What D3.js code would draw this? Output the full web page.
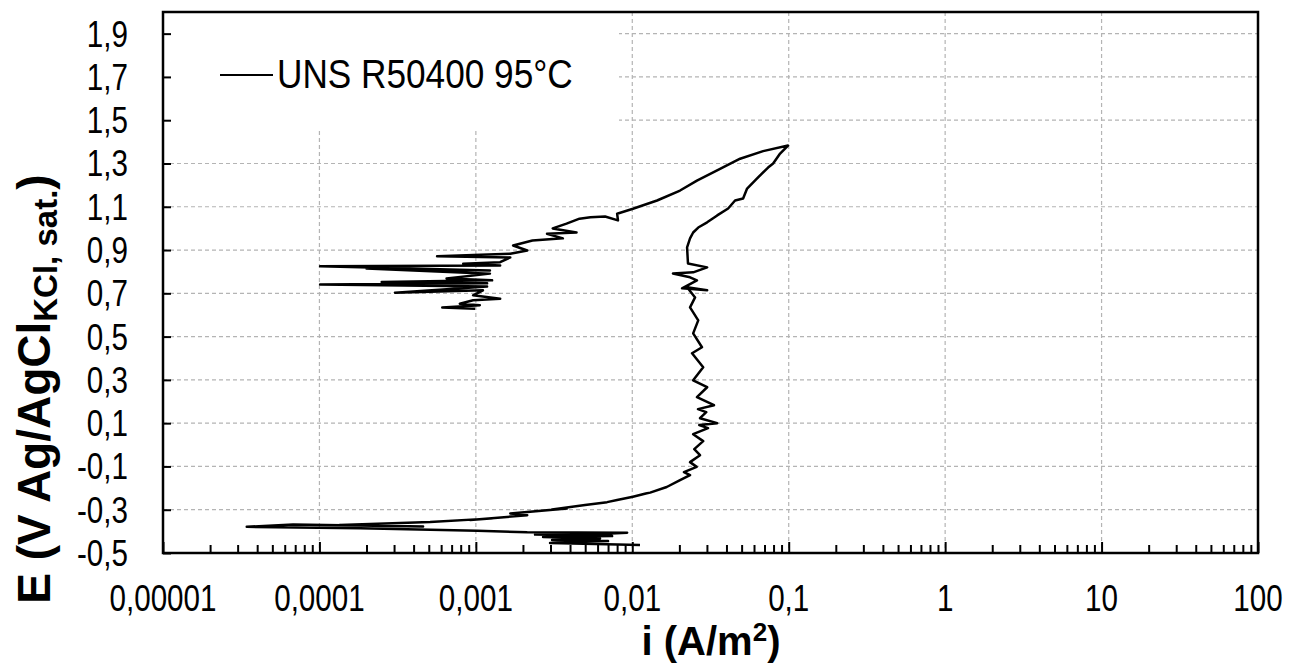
<!DOCTYPE html>
<html>
<head>
<meta charset="utf-8">
<script src="https://cdn.jsdelivr.net/npm/d3@7"></script>
<style>
  body { margin: 0; background: #fff; }
  text { font-family: 'Liberation Sans', Arial, sans-serif; }
</style>
</head>
<body>
<div id="chart"></div>
<script>
// Current density (A/m2) and potential (V Ag/AgCl) in scan order
const current = [
  0.0112, 0.00298, 0.0070, 0.00307, 0.00622, 0.00269, 0.00743, 0.00239, 0.00622, 0.00927,
  0.00213, 0.00102, 0.000182, 0.0000343, 0.0000678, 0.00046, 0.000135, 0.00051, 0.00129, 0.00092,
  0.00213, 0.00166, 0.00383, 0.00307, 0.00499, 0.0069, 0.0080, 0.0101, 0.0122, 0.0130,
  0.0166, 0.0202, 0.0234, 0.0214, 0.0258, 0.0234, 0.0271, 0.0249, 0.0284, 0.0245,
  0.0305, 0.0268, 0.0349, 0.0271, 0.0297, 0.0263, 0.0333, 0.0259, 0.0301, 0.0245,
  0.0284, 0.0241, 0.0279, 0.0245, 0.0264, 0.0234, 0.0252, 0.0224, 0.0301, 0.0208,
  0.0259, 0.0234, 0.0182, 0.0245, 0.0301, 0.0227, 0.0224, 0.0234, 0.0245, 0.0264,
  0.0301, 0.0349, 0.0410, 0.0454, 0.0511, 0.0542, 0.0628, 0.0738, 0.0795, 0.0881,
  0.099,
  0.0686, 0.0489, 0.0364, 0.0259, 0.0202, 0.0144, 0.0101, 0.0080, 0.0081, 0.0067,
  0.0054, 0.0046, 0.0038, 0.0031, 0.0044, 0.00285, 0.0036, 0.0023, 0.00173, 0.00213,
  0.00166, 0.000565, 0.00166, 0.00143, 0.00083, 0.00143, 0.000101, 0.00123, 0.0002, 0.00123,
  0.00065, 0.00127, 0.00025, 0.00118, 0.000101, 0.00118, 0.000304, 0.00111, 0.00096, 0.00143,
  0.00096, 0.00079, 0.00106, 0.00061, 0.00099
]
const potential = [
  -0.463, -0.454, -0.445, -0.440, -0.433, -0.426, -0.422, -0.415, -0.412, -0.406,
  -0.404, -0.397, -0.386, -0.379, -0.368, -0.378, -0.371, -0.357, -0.340, -0.348,
  -0.325, -0.317, -0.294, -0.299, -0.278, -0.265, -0.255, -0.240, -0.225, -0.221,
  -0.195, -0.163, -0.140, -0.126, -0.102, -0.080, -0.048, -0.020, 0.017, 0.049,
  0.077, 0.091, 0.100, 0.123, 0.151, 0.165, 0.183, 0.220, 0.266, 0.298,
  0.358, 0.423, 0.451, 0.515, 0.575, 0.635, 0.681, 0.728, 0.714, 0.723,
  0.760, 0.774, 0.792, 0.797, 0.820, 0.838, 0.912, 0.954, 0.981, 1.004,
  1.028, 1.060, 1.092, 1.129, 1.138, 1.184, 1.231, 1.281, 1.300, 1.346,
  1.383,
  1.357, 1.322, 1.275, 1.221, 1.175, 1.129, 1.091, 1.068, 1.037, 1.055,
  1.052, 1.045, 1.022, 1.000, 0.981, 0.975, 0.954, 0.944, 0.921, 0.898,
  0.883, 0.871, 0.866, 0.844, 0.837, 0.829, 0.825, 0.806, 0.815, 0.791,
  0.768, 0.760, 0.752, 0.746, 0.741, 0.732, 0.703, 0.714, 0.691, 0.675,
  0.668, 0.652, 0.645, 0.634, 0.629
]

const seriesName = 'UNS R50400 95°C'
const xTicks = [0.00001, 0.0001, 0.001, 0.01, 0.1, 1, 10, 100]
const xTickLabels = ['0,00001', '0,0001', '0,001', '0,01', '0,1', '1', '10', '100']
const yTicks = [-0.5, -0.3, -0.1, 0.1, 0.3, 0.5, 0.7, 0.9, 1.1, 1.3, 1.5, 1.7, 1.9]

const width = 1289
const height = 667
const margin = {left: 163, right: 31, top: 12, bottom: 114}
const w = width - margin.left - margin.right
const h = height - margin.top - margin.bottom
const narrow = 0.8 // the labels use a condensed face

const svg = d3.select('#chart')
  .append('svg')
  .attr('width', width)
  .attr('height', height)

const xScale = d3.scaleLog().domain([0.00001, 100]).range([0, w])
const yScale = d3.scaleLinear().domain([-0.5, 2.0]).range([h, 0])

const g = svg.append('g')
  .attr('transform', `translate(${margin.left},${margin.top})`)

// Gridlines
g.append('g')
  .selectAll('line')
  .data(yTicks.slice(1))
  .join('line')
  .attr('x1', 0).attr('x2', w)
  .attr('y1', d => yScale(d)).attr('y2', d => yScale(d))
  .style('stroke', '#b4b4b4')
  .style('stroke-width', 1.2)
  .style('stroke-dasharray', '4,3')

g.append('g')
  .selectAll('line')
  .data(xTicks.slice(1, -1))
  .join('line')
  .attr('x1', d => xScale(d)).attr('x2', d => xScale(d))
  .attr('y1', 0).attr('y2', h)
  .style('stroke', '#b4b4b4')
  .style('stroke-width', 1.2)
  .style('stroke-dasharray', '4,3')

// Legend background hides the grid
g.append('rect')
  .attr('x', 1).attr('y', 1)
  .attr('width', 455).attr('height', 117)
  .style('fill', 'white')

// Axes, ticks inside
const xMinor = []
xTicks.slice(0, -1).forEach(t => {
  for (let k = 2; k < 10; k++) xMinor.push(t * k)
})
const bAxis = g.append('g')
  .attr('transform', `translate(0,${h})`)
bAxis.call(d3.axisBottom(xScale).tickValues(xMinor).tickSize(-8).tickFormat(''))
bAxis.append('g')
  .call(d3.axisBottom(xScale).tickValues(xTicks).tickSize(-11).tickFormat(''))
bAxis.selectAll('.domain').remove()

const lAxis = g.append('g')
lAxis.call(d3.axisLeft(yScale).tickValues(yTicks).tickSize(-8).tickFormat(''))
lAxis.selectAll('.domain').remove()
g.selectAll('.tick line')
  .style('stroke', 'black')
  .style('stroke-width', 2)

// Frame
g.append('rect')
  .attr('width', w).attr('height', h)
  .style('fill', 'none')
  .style('stroke', 'black')
  .style('stroke-width', 2.5)

// Tick labels
g.append('g')
  .selectAll('text')
  .data(xTicks)
  .join('text')
  .attr('transform', d => `translate(${xScale(d)},${h + 58}) scale(${narrow},1)`)
  .attr('text-anchor', 'middle')
  .style('font-size', '37px')
  .text((d, i) => xTickLabels[i])

g.append('g')
  .selectAll('text')
  .data(yTicks)
  .join('text')
  .attr('transform', d => `translate(-35,${yScale(d) + 13}) scale(${narrow},1)`)
  .attr('text-anchor', 'end')
  .style('font-size', '37px')
  .text(d => d3.format('.1f')(d).replace('.', ',').replace('−', '-'))

// Data line
const line = d3.line()
  .x(d => xScale(d[0]))
  .y(d => yScale(d[1]))
g.append('path')
  .datum(current.map((c, i) => [c, potential[i]]))
  .attr('d', line)
  .style('fill', 'none')
  .style('stroke', 'black')
  .style('stroke-width', 2.5)
  .style('stroke-linejoin', 'round')

// Legend
g.append('line')
  .attr('x1', 57).attr('x2', 110)
  .attr('y1', 63).attr('y2', 63)
  .style('stroke', 'black')
  .style('stroke-width', 2)
g.append('text')
  .attr('transform', 'translate(114,76) scale(0.88,1)')
  .style('font-size', '40px')
  .text(seriesName)

// Axis titles
svg.append('text')
  .attr('transform', 'translate(711,655)')
  .attr('text-anchor', 'middle')
  .style('font-weight', 'bold')
  .style('font-size', '40px')
  .call(t => {
    t.append('tspan').text('i (A/m')
    t.append('tspan').attr('dy', -14).style('font-size', '26px').text('2')
    t.append('tspan').attr('dy', 14).text(')')
  })

svg.append('text')
  .attr('transform', 'translate(50,389) rotate(-90)')
  .attr('text-anchor', 'middle')
  .style('font-weight', 'bold')
  .style('font-size', '46px')
  .call(t => {
    t.append('tspan').text('E (V Ag/AgCl')
    t.append('tspan').attr('dy', 7).style('font-size', '33px').text('KCl, sat.')
    t.append('tspan').attr('dy', -7).text(')')
  })
</script>
</body>
</html>
